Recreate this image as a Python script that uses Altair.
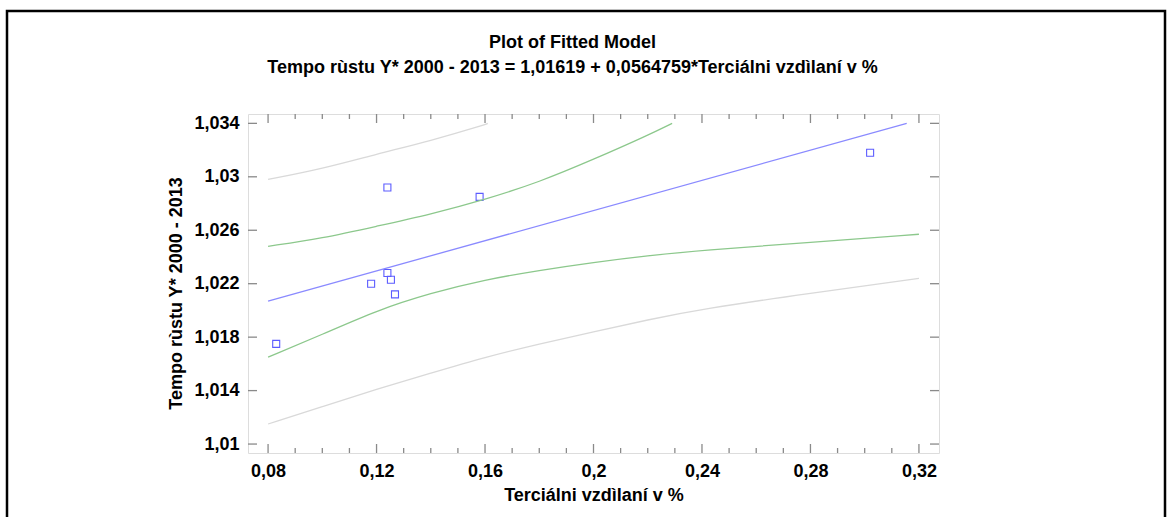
import altair as alt
import pandas as pd

# ---- data ----
obs_x = [0.083, 0.118, 0.124, 0.124, 0.1253, 0.1268, 0.158, 0.302]
obs_y = [1.0175, 1.0220, 1.0292, 1.0228, 1.0223, 1.0212, 1.0285, 1.0318]

fit_x = [0.08, 0.3155]
fit_y = [1.0207, 1.0340]

conf_up_x = [0.08, 0.10, 0.12, 0.14, 0.16, 0.18, 0.20, 0.22, 0.229]
conf_up_y = [1.0248, 1.0254, 1.0263, 1.0272, 1.0283, 1.0296, 1.0313, 1.0331, 1.0340]

conf_lo_x = [0.08, 0.10, 0.12, 0.14, 0.16, 0.18, 0.20, 0.22, 0.24, 0.28, 0.32]
conf_lo_y = [1.0165, 1.0182, 1.0200, 1.0213, 1.0223, 1.0230, 1.0236, 1.0241, 1.0245, 1.0251, 1.0257]

pred_up_x = [0.08, 0.10, 0.12, 0.14, 0.16, 0.161]
pred_up_y = [1.0298, 1.0306, 1.0317, 1.0327, 1.0339, 1.0340]

pred_lo_x = [0.08, 0.10, 0.12, 0.14, 0.16, 0.18, 0.20, 0.22, 0.24, 0.28, 0.32]
pred_lo_y = [1.0115, 1.0128, 1.0141, 1.0153, 1.0165, 1.0175, 1.0184, 1.0193, 1.0201, 1.0213, 1.0224]

x_major = [0.08, 0.12, 0.16, 0.20, 0.24, 0.28, 0.32]
x_minor = [0.09, 0.10, 0.11, 0.13, 0.14, 0.15, 0.17, 0.18, 0.19, 0.21, 0.22, 0.23,
           0.25, 0.26, 0.27, 0.29, 0.30, 0.31]
y_major = [1.010, 1.014, 1.018, 1.022, 1.026, 1.030, 1.034]

title_lines = ["Plot of Fitted Model",
               "Tempo rùstu Y* 2000 - 2013 = 1,01619 + 0,0564759*Terciálni vzdìlaní v %"]
x_title = "Terciálni vzdìlaní v %"
y_title = "Tempo rùstu Y* 2000 - 2013"

# ---- build tables ----
curves = []
for name, xs_, ys_ in [("fit", fit_x, fit_y),
                       ("conf_up", conf_up_x, conf_up_y),
                       ("conf_lo", conf_lo_x, conf_lo_y),
                       ("pred_up", pred_up_x, pred_up_y),
                       ("pred_lo", pred_lo_x, pred_lo_y)]:
    for i, (a, b) in enumerate(zip(xs_, ys_)):
        curves.append({"series": name, "x": a, "y": b, "o": i})
curves = pd.DataFrame(curves)
obs = pd.DataFrame({"x": obs_x, "y": obs_y})

W, H = 691, 339
FONT = "Liberation Sans"
FS = 18
XDOM = [0.0726, 0.3274]
YDOM = [1.00933, 1.0347]

xs = alt.Scale(domain=XDOM, nice=False, zero=False)
ys = alt.Scale(domain=YDOM, nice=False, zero=False)

x_axis = alt.Axis(values=x_major, ticks=False, domain=False, grid=False,
                  labelExpr="replace(format(datum.value, '.2~f'), '.', ',')",
                  labelFont=FONT, labelFontSize=FS, labelFontWeight="bold",
                  labelColor="#000", labelPadding=9,
                  titleFont=FONT, titleFontSize=FS, titleFontWeight="bold",
                  titleColor="#000", titlePadding=6)
y_axis = alt.Axis(values=y_major, ticks=False, domain=False, grid=False,
                  labelExpr="replace(format(datum.value, '.3~f'), '.', ',')",
                  labelFont=FONT, labelFontSize=FS, labelFontWeight="bold",
                  labelColor="#000", labelPadding=9,
                  titleFont=FONT, titleFontSize=FS, titleFontWeight="bold",
                  titleColor="#000", titleX=-63, titleY=179)

def X(field):
    return alt.X(field, scale=xs, title=x_title, axis=x_axis)

def Y(field):
    return alt.Y(field, scale=ys, title=y_title, axis=y_axis)

series_scale = alt.Scale(
    domain=["fit", "conf_up", "conf_lo", "pred_up", "pred_lo"],
    range=["#8a8aff", "#8cc88c", "#8cc88c", "#d9d9d9", "#d9d9d9"],
)

points = alt.Chart(obs).mark_point(shape="square", size=49, filled=False,
                                   stroke="#5c5cff", strokeWidth=1.1, opacity=1).encode(
    x=X("x:Q"), y=Y("y:Q"))

lines = alt.Chart(curves).mark_line(strokeWidth=1.3, interpolate="basis").encode(
    x=X("x:Q"), y=Y("y:Q"),
    color=alt.Color("series:N", scale=series_scale, legend=None),
    detail="series:N",
    order="o:Q",
)

tick_color = "#8a8a8a"
xmaj = pd.DataFrame({"x": x_major})
xmin = pd.DataFrame({"x": x_minor})
ymaj = pd.DataFrame({"y": y_major})

def xticks(df, length, top):
    if top:
        yv, y2v = alt.value(0), alt.value(length)
    else:
        yv, y2v = alt.value(H), alt.value(H - length)
    return alt.Chart(df).mark_rule(color=tick_color, strokeWidth=1.3).encode(
        x=X("x:Q"), y=yv, y2=y2v)

def yticks(df, length, right):
    if right:
        xv, x2v = alt.value(W), alt.value(W - length)
    else:
        xv, x2v = alt.value(0), alt.value(length)
    return alt.Chart(df).mark_rule(color=tick_color, strokeWidth=1.3).encode(
        y=Y("y:Q"), x=xv, x2=x2v)

frame = alt.Chart(pd.DataFrame({"k": [0]})).mark_rect(
    filled=False, stroke="#000", strokeWidth=2.5).encode(
    x=alt.value(-241), x2=alt.value(917), y=alt.value(-103), y2=alt.value(430))

chart = alt.layer(
    points, lines,
    xticks(xmaj, 9, False), xticks(xmin, 5, False),
    xticks(xmaj, 9, True), xticks(xmin, 5, True),
    yticks(ymaj, 9, False), yticks(ymaj, 9, True),
    frame,
).properties(
    width=W, height=H,
    title=alt.Title(title_lines, font=FONT, fontSize=FS, fontWeight="bold",
                    color="#000", anchor="middle", frame="group", offset=-67,
                    lineHeight=25, dx=-21),
    autosize=alt.AutoSizeParams(type="none"),
    padding={"left": 248, "top": 114, "right": 229, "bottom": 64},
).configure_view(stroke="#8a8a8a", strokeWidth=1.6).configure(background="white")

chart.save("out.html", embed_options={"renderer": "svg", "actions": False})
